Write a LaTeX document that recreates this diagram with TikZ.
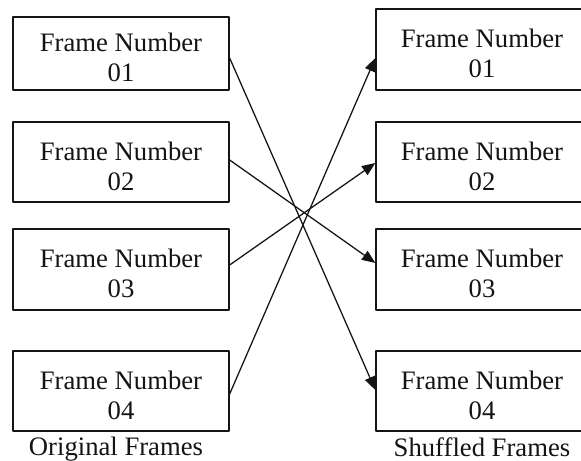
\documentclass[tikz,border=0pt]{standalone}
\usepackage{fontspec}
\setmainfont{Liberation Serif}
\usetikzlibrary{arrows.meta,positioning}
\definecolor{ink}{HTML}{141414}

\begin{document}
\begin{tikzpicture}[x=.75pt,y=.75pt,line cap=round,line join=round,
  frame/.style={draw=ink,line width=1pt,fill=white,inner sep=0pt,align=center,text=ink,font=\fontsize{20}{22.5}\selectfont},
  caption/.style={inner sep=0pt,text=ink,font=\fontsize{20}{24}\selectfont},
  link/.style={draw=ink,line width=.95pt,-{Triangle[length=10pt,width=8pt]}}]
  \path[use as bounding box] (0,0) rectangle (581,460);
  \fill[white] (0,0) rectangle (581,460);

  \foreach \k/\y/\h in {1/406.5/54.75pt,2/298/60pt,3/190.5/60.75pt,4/69/60pt}{
    \node[frame,minimum width=162pt,minimum height=\h] (l\k) at (121,\y) {\rule{0pt}{20pt}Frame Number\\0\k};
  }
  \foreach \k/\y/\h in {1/410.5/60.75pt,2/298/60pt,3/190.5/60.75pt,4/69/60pt}{
    \node[frame,minimum width=159pt,minimum height=\h] (r\k) at (482,\y) {\rule{0pt}{20pt}Frame Number\\0\k};
  }

  \node[caption,below=4pt of l4,xshift=-3.75pt] (orig) {Original Frames};
  \node[caption,below=4pt of r4] (shuf) {Shuffled Frames};

  \draw[link] ([yshift=-3.4pt]l1.east) -- ([yshift=.75pt]r4.west);
  \draw[link] ([yshift=1.5pt]l2.east) -- ([yshift=4.9pt]r3.west);
  \draw[link] ([yshift=3.4pt]l3.east) -- ([yshift=-.75pt]r2.west);
  \draw[link] ([yshift=-2.25pt]l4.east) -- ([yshift=-6.4pt]r1.west);
\end{tikzpicture}
\end{document}
